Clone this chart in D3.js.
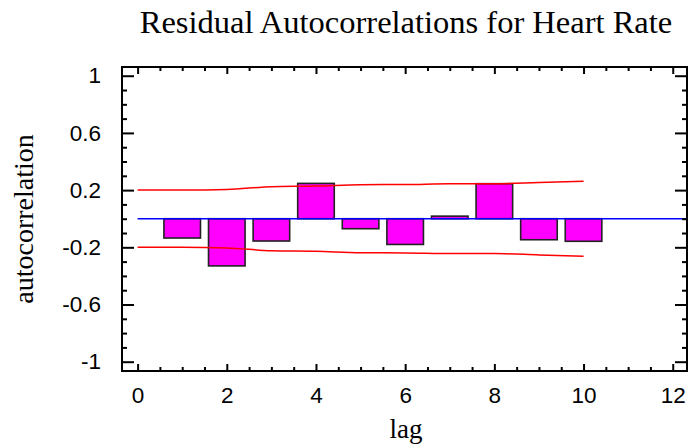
<!DOCTYPE html>
<html>
<head>
<meta charset="utf-8">
<script src="https://cdn.jsdelivr.net/npm/d3@7"></script>
<style>
  body { margin: 0; background: #fff; }
  svg { display: block; }
</style>
</head>
<body>
<div id="chart"></div>
<script>
// values
const lags = [1, 2, 3, 4, 5, 6, 7, 8, 9, 10];
const autocorr = [-0.135, -0.33, -0.156, 0.247, -0.07, -0.18, 0.018, 0.245, -0.147, -0.158];
const limitLags = [0, 1, 2, 3, 4, 5, 6, 7, 8, 9, 10];
const limits = [0.2, 0.2, 0.204, 0.224, 0.228, 0.238, 0.239, 0.244, 0.244, 0.253, 0.262];
const xTicks = [0, 2, 4, 6, 8, 10, 12];
const yTicks = [-1, -0.6, -0.2, 0.2, 0.6, 1];

const width = 688, height = 447;
const frame = {left: 122, right: 687, top: 67, bottom: 371};

const svg = d3.select('#chart').append('svg')
    .attr('width', width)
    .attr('height', height);

const x = d3.scaleLinear().domain([-0.35, 12.32]).range([frame.left, frame.right]);
const y = d3.scaleLinear().domain([-1.065, 1.061]).range([frame.bottom, frame.top]);

const xMinor = d3.range(0, 12.01, 0.5).filter(v => v % 2 !== 0);
const yMinor = d3.range(-10, 11, 1).map(v => v / 10).filter(v => !yTicks.some(t => Math.abs(t - v) < 1e-9));

const fmt = d => String(+d.toFixed(1));

// bars
const bw = 0.82;
svg.append('g').selectAll('rect')
    .data(lags)
    .join('rect')
    .attr('x', (d, i) => x(d - bw / 2))
    .attr('width', x(bw) - x(0))
    .attr('y', (d, i) => y(Math.max(0, autocorr[i])))
    .attr('height', (d, i) => Math.abs(y(autocorr[i]) - y(0)))
    .style('fill', '#ff00ff')
    .style('stroke', '#222')
    .style('stroke-width', 1.6);

// zero line
svg.append('line')
    .attr('x1', x(0)).attr('x2', frame.right)
    .attr('y1', y(0)).attr('y2', y(0))
    .style('stroke', '#0000ff')
    .style('stroke-width', 1.5);

// probability limits
const limitLine = d3.line()
    .x((d, i) => x(limitLags[i]))
    .y(d => y(d))
    .curve(d3.curveMonotoneX);

svg.append('path')
    .datum(limits)
    .attr('d', limitLine)
    .style('fill', 'none').style('stroke', '#ff0000').style('stroke-width', 1.5);
svg.append('path')
    .datum(limits.map(v => -v))
    .attr('d', limitLine)
    .style('fill', 'none').style('stroke', '#ff0000').style('stroke-width', 1.5);

// axes, ticks point inward on all four sides
function styleAxis(g) {
    g.select('.domain').remove();
    g.selectAll('.tick line').style('stroke', '#000').style('stroke-width', 2);
    g.selectAll('.tick text')
        .style('font-family', '"Liberation Sans", Arial, sans-serif')
        .style('font-size', '22.5px')
        .style('fill', '#000');
}

svg.append('g').attr('transform', `translate(0,${frame.bottom})`)
    .call(d3.axisBottom(x).tickValues(xTicks).tickFormat(fmt).tickSize(-7).tickPadding(16))
    .call(styleAxis);
svg.append('g').attr('transform', `translate(0,${frame.bottom})`)
    .call(d3.axisBottom(x).tickValues(xMinor).tickFormat('').tickSize(-4))
    .call(styleAxis);
svg.append('g').attr('transform', `translate(0,${frame.top})`)
    .call(d3.axisTop(x).tickValues(xTicks).tickFormat('').tickSize(-7))
    .call(styleAxis);
svg.append('g').attr('transform', `translate(0,${frame.top})`)
    .call(d3.axisTop(x).tickValues(xMinor).tickFormat('').tickSize(-4))
    .call(styleAxis);

svg.append('g').attr('transform', `translate(${frame.left},0)`)
    .call(d3.axisLeft(y).tickValues(yTicks).tickFormat(fmt).tickSize(-12).tickPadding(21))
    .call(styleAxis);
svg.append('g').attr('transform', `translate(${frame.left},0)`)
    .call(d3.axisLeft(y).tickValues(yMinor).tickFormat('').tickSize(-5))
    .call(styleAxis);
svg.append('g').attr('transform', `translate(${frame.right},0)`)
    .call(d3.axisRight(y).tickValues(yTicks).tickFormat('').tickSize(-12))
    .call(styleAxis);
svg.append('g').attr('transform', `translate(${frame.right},0)`)
    .call(d3.axisRight(y).tickValues(yMinor).tickFormat('').tickSize(-5))
    .call(styleAxis);

// frame
svg.append('rect')
    .attr('x', frame.left).attr('y', frame.top)
    .attr('width', frame.right - frame.left)
    .attr('height', frame.bottom - frame.top)
    .style('fill', 'none').style('stroke', '#000').style('stroke-width', 2);

// title and axis labels
const serif = '"Liberation Serif", "Times New Roman", serif';
svg.append('text')
    .attr('x', 406).attr('y', 33)
    .attr('text-anchor', 'middle')
    .style('font-family', serif).style('font-size', '32.5px')
    .text('Residual Autocorrelations for Heart Rate');

svg.append('text')
    .attr('x', 406).attr('y', 438)
    .attr('text-anchor', 'middle')
    .style('font-family', serif).style('font-size', '27px')
    .text('lag');

svg.append('text')
    .attr('transform', `translate(33,${(frame.top + frame.bottom) / 2}) rotate(-90)`)
    .attr('text-anchor', 'middle')
    .style('font-family', serif).style('font-size', '28px')
    .text('autocorrelation');
</script>
</body>
</html>
